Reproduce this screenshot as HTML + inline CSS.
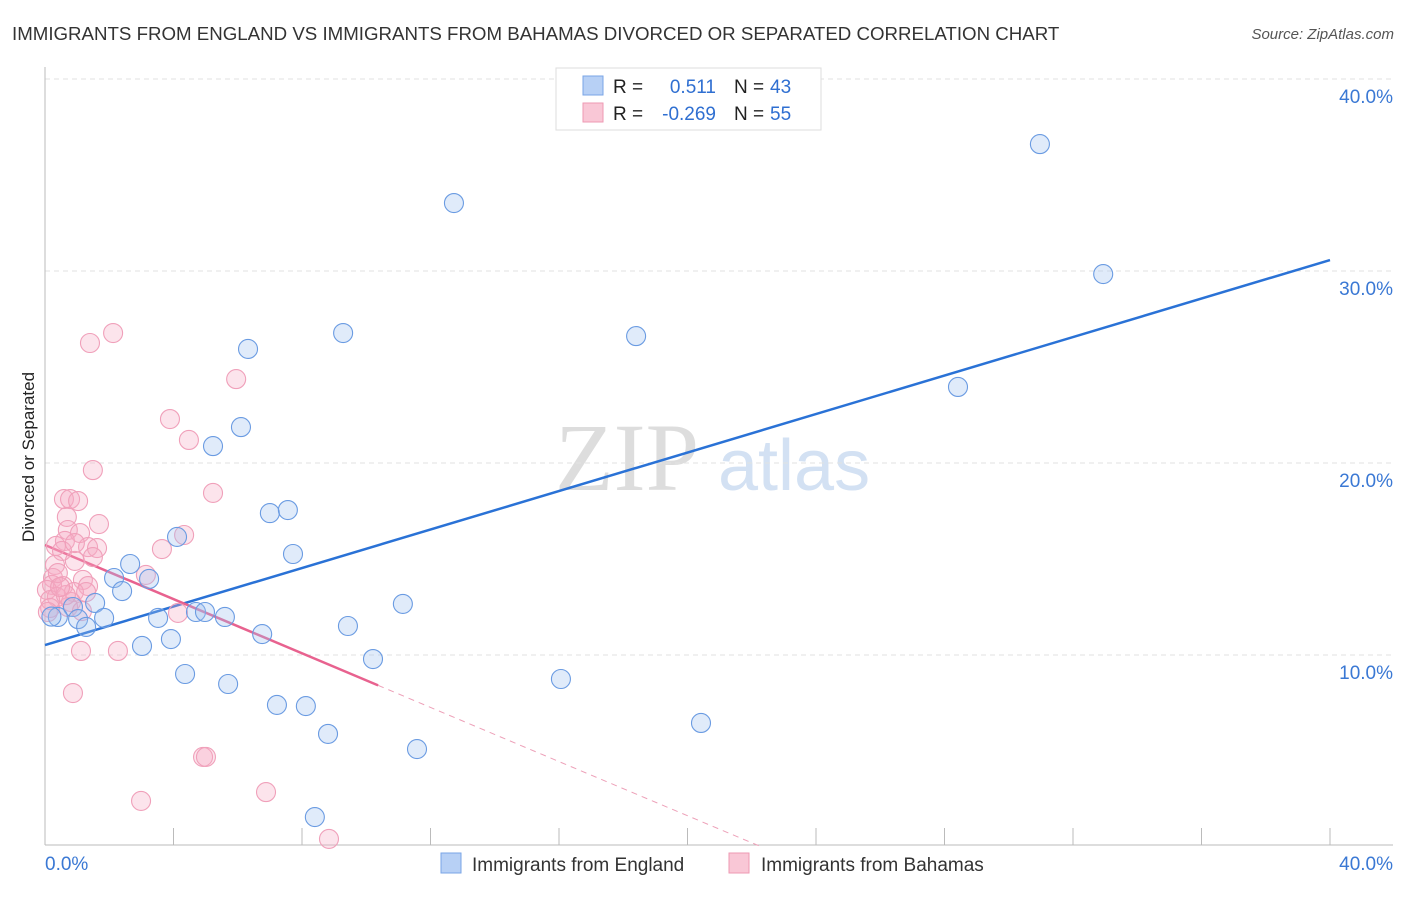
<!DOCTYPE html>
<html><head><meta charset="utf-8"><style>
body{margin:0;background:#fff;font-family:"Liberation Sans",sans-serif}
</style></head><body>
<svg id="chart" width="1406" height="892" xmlns="http://www.w3.org/2000/svg">
<text x="12" y="40" font-size="18.7" fill="#333">IMMIGRANTS FROM ENGLAND VS IMMIGRANTS FROM BAHAMAS DIVORCED OR SEPARATED CORRELATION CHART</text>
<text x="1394" y="39" font-size="15" fill="#555" font-style="italic" text-anchor="end">Source: ZipAtlas.com</text>
<text transform="translate(34,457) rotate(-90)" font-size="17" fill="#222" text-anchor="middle">Divorced or Separated</text>
<g><text x="555" y="490" font-family="Liberation Serif,serif" font-size="96" fill="#ddd">ZIP</text><text x="718" y="490" font-size="72" fill="#d3e1f3">atlas</text></g>
<g id="grid"></g><g id="axes"></g><g id="trends"></g><g id="pts"></g>
<g>
<rect x="556" y="68" width="265" height="62" fill="#fff" stroke="#ddd"/>
<rect x="583" y="76" width="20" height="19" fill="#b7d0f5" stroke="#7aa5e6"/>
<rect x="583" y="103" width="20" height="19" fill="#f9c7d6" stroke="#ee9ab3"/>
<text x="613" y="93" font-size="19" fill="#222">R =</text><text x="716" y="93" font-size="19" fill="#2f6fd1" text-anchor="end">0.511</text>
<text x="734" y="93" font-size="19" fill="#222">N =</text><text x="770" y="93" font-size="19" fill="#2f6fd1">43</text>
<text x="613" y="120" font-size="19" fill="#222">R =</text><text x="716" y="120" font-size="19" fill="#2f6fd1" text-anchor="end">-0.269</text>
<text x="734" y="120" font-size="19" fill="#222">N =</text><text x="770" y="120" font-size="19" fill="#2f6fd1">55</text>
</g>
<g>
<rect x="441" y="853" width="20" height="20" fill="#b7d0f5" stroke="#7aa5e6"/>
<text x="472" y="871" font-size="19" fill="#333">Immigrants from England</text>
<rect x="729" y="853" width="20" height="20" fill="#f9c7d6" stroke="#ee9ab3"/>
<text x="761" y="871" font-size="19" fill="#333">Immigrants from Bahamas</text>
</g>
</svg>
<script>
const blueX=[30.97,12.73,32.94,9.28,18.40,6.32,28.42,6.10,5.23,7.00,7.56,4.11,7.72,2.65,2.15,3.24,2.40,1.56,0.87,11.14,4.70,4.98,5.60,3.52,0.40,1.03,1.84,1.28,9.43,6.76,3.92,3.02,10.21,4.36,16.06,5.70,7.22,8.12,20.42,8.81,11.58,8.40,0.2];
const blueY=[36.61,33.54,29.84,26.77,26.61,25.94,23.96,21.87,20.88,17.39,17.55,16.15,15.26,14.74,14.01,13.96,13.33,12.71,12.50,12.66,12.24,12.24,11.98,11.93,11.98,11.87,11.93,11.46,11.51,11.09,10.83,10.47,9.79,9.01,8.75,8.49,7.40,7.34,6.46,5.89,5.10,1.56,12.0];
const pinkX=[2.12,1.40,5.95,3.89,4.48,1.49,5.23,0.59,0.78,1.03,0.68,1.68,0.71,1.09,4.33,0.62,0.34,1.34,1.62,3.64,0.53,1.49,0.93,0.31,3.14,0.25,1.18,0.22,1.34,0.56,0.06,0.90,1.28,0.37,0.16,0.81,0.72,0.16,1.15,4.14,1.12,2.27,0.87,4.92,5.01,2.99,6.88,8.84,0.40,0.65,0.09,0.93,0.47];
const pinkY=[26.77,26.25,24.37,22.29,21.20,19.63,18.44,18.12,18.12,18.02,17.19,16.82,16.51,16.35,16.25,15.94,15.68,15.62,15.57,15.52,15.42,15.10,14.90,14.69,14.17,14.01,13.91,13.65,13.59,13.59,13.39,13.28,13.28,13.02,12.86,12.76,12.50,12.45,12.29,12.19,10.21,10.21,8.02,4.69,4.69,2.40,2.86,0.42,14.27,13.12,12.24,15.83,13.54];
const blueTrend=[10.52,30.57];
const pinkTrend=[15.73,-0.705];
const pinkSolidEnd=10.37;
const yTicks=[10,20,30,40];
const yTickLabels=["10.0%","20.0%","30.0%","40.0%"];
const NS="http://www.w3.org/2000/svg";
const sx=v=>45+v*1285/40, sy=v=>847-v*19.2;
function mk(p,t,a){const e=document.createElementNS(NS,t);for(const k in a)e.setAttribute(k,a[k]);document.getElementById(p).appendChild(e);return e;}
yTicks.forEach((t,i)=>{
 const l=mk('grid','line',{x1:45,x2:1393,y1:sy(t),y2:sy(t),stroke:'#e2e2e2','stroke-dasharray':'5,4'});
 
 
 const tx=mk('grid','text',{x:1393,y:sy(t)+24,'font-size':19,fill:'#3a78d4','text-anchor':'end'});
 tx.textContent=yTickLabels[i];
 
 
});
let a=mk('axes','line',{x1:45,x2:45,y1:67,y2:845,stroke:'#bbb'});


a=mk('axes','line',{x1:45,x2:1393,y1:845,y2:845,stroke:'#bbb'});


for(let v=0;v<=40;v+=4){const t=mk('axes','line',{x1:sx(v),x2:sx(v),y1:828,y2:845,stroke:'#bbb'});
 
 }
[["0.0%",45,'start'],["40.0%",1393,'end']].forEach(d=>{const t=mk('axes','text',{x:d[1],y:870,'font-size':19,fill:'#3a78d4','text-anchor':d[2]});t.textContent=d[0];
 
 });
function pts(X,Y,fill,stroke,name){X.forEach((x,i)=>{const c=mk('pts','circle',{cx:sx(x),cy:sy(Y[i]),r:9.5,fill:fill,stroke:stroke,'stroke-width':1.1});
 
 });}
pts(pinkX,pinkY,'rgba(246,170,195,0.32)','#f0a0ba','bahamas-point');
pts(blueX,blueY,'rgba(160,194,240,0.32)','#6a9be2','england-point');
let tl=mk('trends','line',{x1:sx(0),y1:sy(blueTrend[0]),x2:sx(40),y2:sy(blueTrend[1]),stroke:'#2a72d6','stroke-width':2.5});


const pe=-pinkTrend[0]/pinkTrend[1];
tl=mk('trends','line',{x1:sx(0),y1:sy(pinkTrend[0]),x2:sx(pinkSolidEnd),y2:sy(pinkTrend[0]+pinkTrend[1]*pinkSolidEnd),stroke:'#e8628f','stroke-width':2.5});


tl=mk('trends','line',{x1:sx(pinkSolidEnd),y1:sy(pinkTrend[0]+pinkTrend[1]*pinkSolidEnd),x2:sx(pe),y2:sy(0),stroke:'#eda0b8','stroke-width':1,'stroke-dasharray':'6,5'});


</script>
</body></html>
